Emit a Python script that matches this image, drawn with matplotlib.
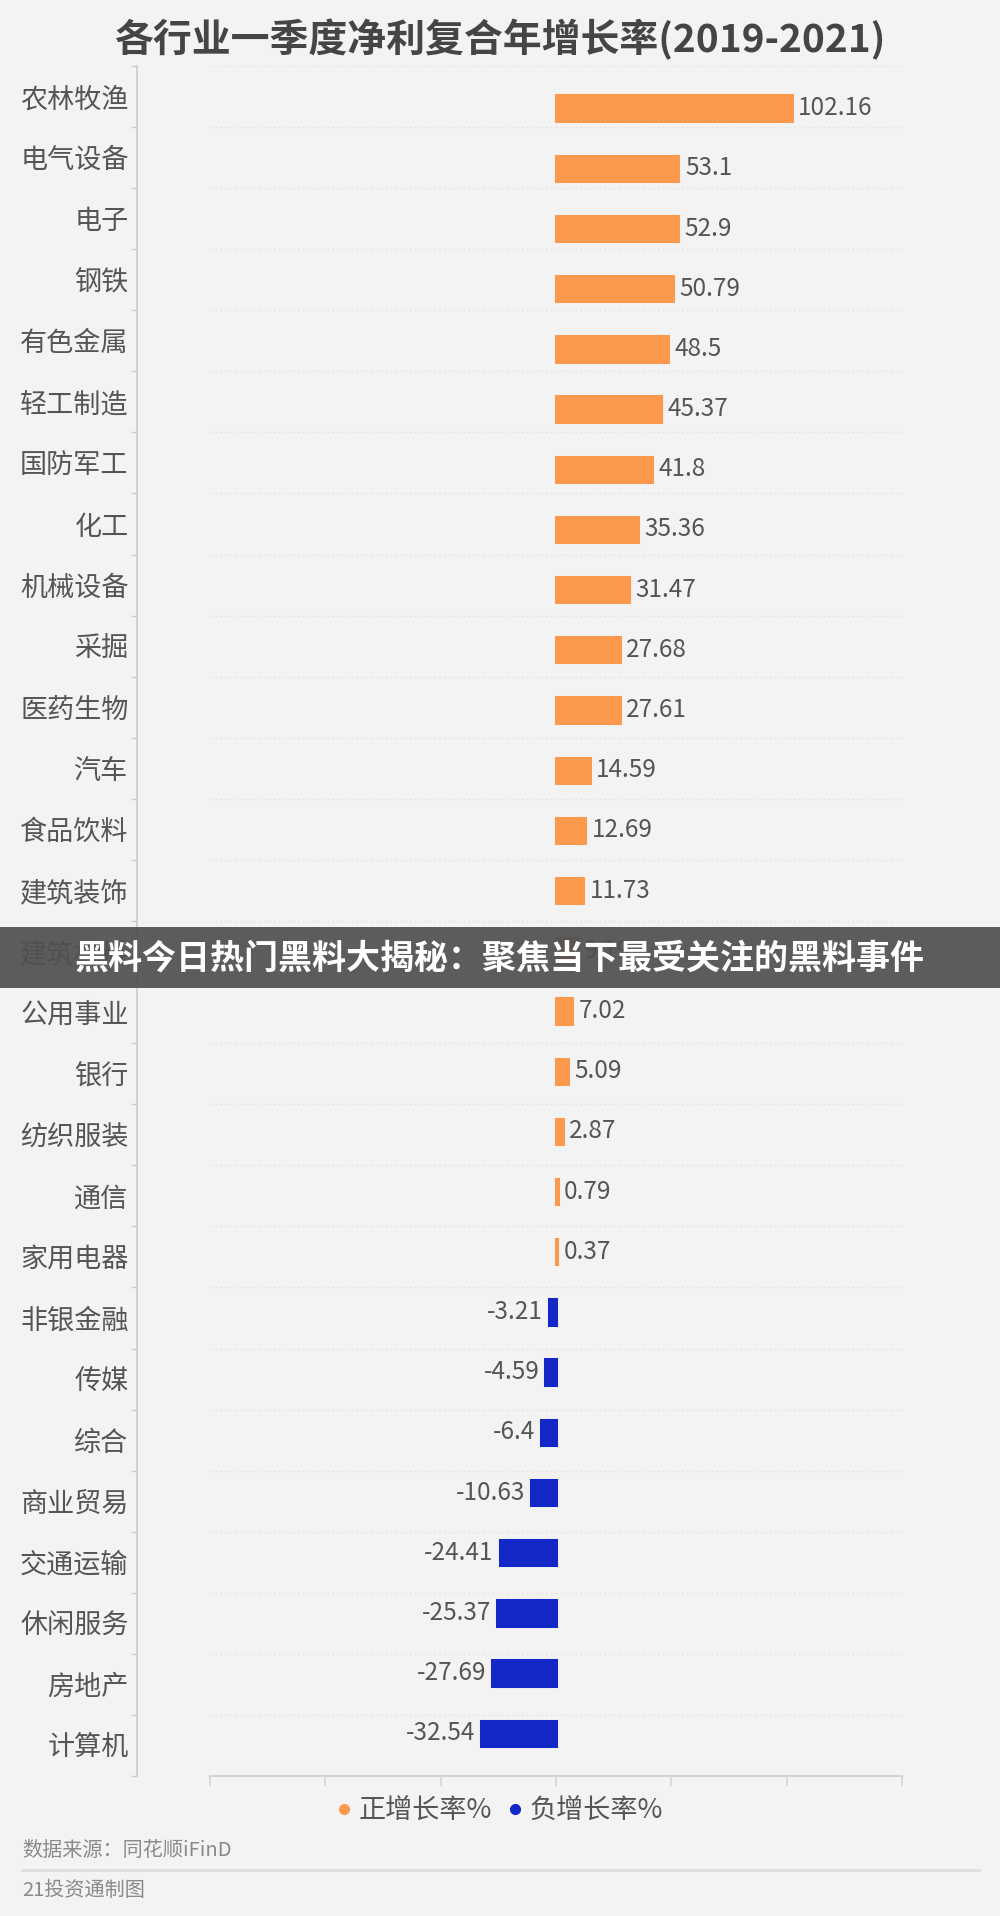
import numpy as np
import matplotlib
matplotlib.use("Agg")
import matplotlib.pyplot as plt
from matplotlib.lines import Line2D
from matplotlib.patches import Rectangle

plt.rcParams['font.family'] = ['Noto Sans CJK SC', 'DejaVu Sans']

title = '各行业一季度净利复合年增长率(2019-2021)'
categories = ['农林牧渔', '电气设备', '电子', '钢铁', '有色金属', '轻工制造', '国防军工',
              '化工', '机械设备', '采掘', '医药生物', '汽车', '食品饮料', '建筑装饰',
              '建筑材料', '公用事业', '银行', '纺织服装', '通信', '家用电器', '非银金融',
              '传媒', '综合', '商业贸易', '交通运输', '休闲服务', '房地产', '计算机']
values = [102.16, 53.1, 52.9, 50.79, 48.5, 45.37, 41.8, 35.36, 31.47, 27.68, 27.61,
          14.59, 12.69, 11.73, 9.19, 7.02, 5.09, 2.87, 0.79, 0.37, -3.21, -4.59,
          -6.4, -10.63, -24.41, -25.37, -27.69, -32.54]
legend_labels = ['正增长率%', '负增长率%']
x_ticks = [-150, -100, -50, 0, 50, 100, 150]
source_text = '数据来源：同花顺iFinD'
credit_text = '21投资通制图'
banner_text = '黑料今日热门黑料大揭秘：聚焦当下最受关注的黑料事件'

BG = '#f3f3f3'
ORANGE = '#fd994c'
BLUE = '#1428c8'
TXT = '#555555'

W, H = 1000, 1916
fig = plt.figure(figsize=(W / 100, H / 100), dpi=100, facecolor=BG)

# axes: spine at x=137, right end 902; top 66, bottom 1776
ax = fig.add_axes([137 / W, 1 - 1776 / H, (902 - 137) / W, (1776 - 66) / H])
ax.set_facecolor('none')

n = len(categories)
ypos = np.arange(n)
colors = [ORANGE if v >= 0 else BLUE for v in values]
ax.barh(ypos, values, height=0.42, color=colors, edgecolor=colors, linewidth=2.2, zorder=3)

for y, v in zip(ypos, values):
    lab = '{:g}'.format(v)
    if v >= 0:
        ax.text(v + 2.8, y, lab, ha='left', va='center', fontsize=17.5, color=TXT, zorder=4)
    else:
        ax.text(v - 2.6, y, lab, ha='right', va='center', fontsize=17.5, color=TXT, zorder=4)

top, bottom = -0.70, 27.71
ax.set_ylim(bottom, top)
ax.set_xlim(-181.6, 150)

bounds = np.linspace(top, bottom, n + 1)
centers = (bounds[:-1] + bounds[1:]) / 2
ax.hlines(bounds[:-1], -150, 150, colors='#e4e4e4', linewidth=1.0,
          linestyles=(0, (1.5, 2)), zorder=1)

ax.set_yticks(centers)
ax.set_yticklabels(categories, fontsize=19.5, color=TXT)
ax.set_yticks(bounds, minor=True)
ax.tick_params(axis='y', which='major', length=0, pad=6)
ax.tick_params(axis='y', which='minor', length=4, color='#cccccc', width=1)

ax.set_xticks(x_ticks)
ax.set_xticklabels([])
ax.tick_params(axis='x', length=7, color='#d4d4d4', width=1.2, direction='out')

for s in ['top', 'right']:
    ax.spines[s].set_visible(False)
ax.spines['left'].set_color('#cccccc')
ax.spines['left'].set_linewidth(1.2)
ax.spines['bottom'].set_color('#d4d4d4')
ax.spines['bottom'].set_linewidth(1.5)
ax.spines['bottom'].set_bounds(-150, 150)

fig.text(0.5, 1 - 40 / H, title, ha='center', va='center', fontsize=28,
         fontweight='bold', color='#454545')

handles = [Line2D([], [], marker='o', linestyle='none', markersize=7,
                  markerfacecolor=ORANGE, markeredgecolor=ORANGE),
           Line2D([], [], marker='o', linestyle='none', markersize=7,
                  markerfacecolor=BLUE, markeredgecolor=BLUE)]
fig.legend(handles, legend_labels, loc='center', bbox_to_anchor=(0.5, 1 - 1811 / H),
           ncol=2, frameon=False, fontsize=19.5, handlelength=0.5, handletextpad=0.3,
           columnspacing=0.6, labelcolor=TXT)

fig.text(22 / W, 1 - 1851 / H, source_text, ha='left', va='center', fontsize=14.5, color='#8a8a8a')
fig.add_artist(Line2D([22 / W, 979 / W], [1 - 1870 / H, 1 - 1870 / H],
                      color='#dedede', linewidth=2, transform=fig.transFigure))
fig.text(22 / W, 1 - 1890 / H, credit_text, ha='left', va='center', fontsize=14.5, color='#8a8a8a')

# overlay banner
fig.add_artist(Rectangle((0, 1 - 988 / H), 1, 61 / H, transform=fig.transFigure,
                         facecolor='#505050', alpha=0.93, edgecolor='none', zorder=10))
fig.text(0.5, 1 - 958 / H, banner_text, ha='center', va='center', fontsize=24.5,
         fontweight='bold', color='white', zorder=11)

fig.savefig('out.png', dpi=100, facecolor=BG)
